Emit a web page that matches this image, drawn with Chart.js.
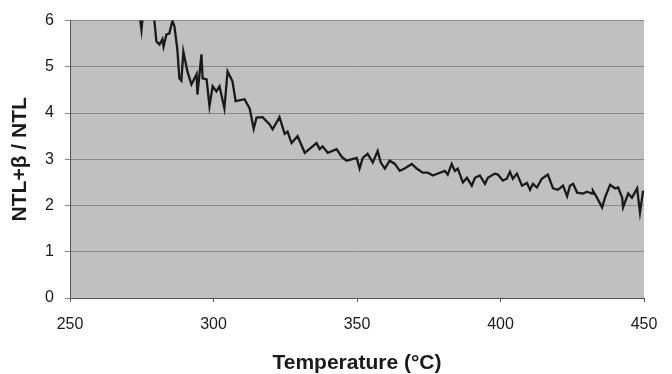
<!DOCTYPE html>
<html>
<head>
<meta charset="utf-8">
<script src="https://cdn.jsdelivr.net/npm/chart.js@4"></script>
<style>
  body { margin: 0; background: #fff; }
  #wrap { width: 672px; height: 374px; }
</style>
</head>
<body>
<div id="wrap"><canvas id="myChart" width="672" height="374"></canvas></div>
<script>
// temperature (°C) and ratio
var temps = [273.5, 274.5, 274.9, 275.2, 276.3, 278.4, 279.4, 280.1, 281.2, 282.2, 282.6, 283.6, 284.6, 285.7, 286.4, 287.4,
  288.1, 288.8, 289.5, 290.9, 292.3, 294.1, 294.4, 295.8, 296.2, 297.6, 298.6, 299.7, 301.0, 302.1, 303.8, 304.9,
  306.6, 307.7, 310.8, 312.6, 314.0, 315.0, 317.1, 319.5, 320.6, 323.0, 324.8, 325.8, 327.2, 329.3, 331.8, 335.9,
  337.0, 338.0, 339.8, 342.9, 344.7, 346.4, 349.9, 350.9, 352.0, 353.7, 355.5, 357.2, 358.3, 359.7, 361.4, 363.2,
  364.9, 366.6, 369.1, 370.8, 372.9, 374.7, 376.4, 378.9, 380.6, 381.6, 383.0, 384.1, 385.1, 386.9, 388.3, 390.0,
  391.1, 392.8, 394.6, 395.6, 398.0, 399.1, 400.8, 402.2, 403.3, 404.3, 405.7, 407.5, 409.2, 410.3, 411.3, 412.7,
  414.4, 416.5, 418.3, 420.0, 421.8, 423.2, 424.2, 425.3, 426.7, 428.8, 430.1, 431.9, 432.2, 433.6, 435.4, 436.4,
  438.2, 439.9, 441.0, 442.4, 442.7, 444.5, 445.8, 447.6, 448.6, 449.7];
var ratio = [6.3, 6.0, 5.8, 6.0, 6.4, 6.4, 6.0, 5.55, 5.48, 5.6, 5.44, 5.7, 5.72, 6.0, 5.87, 5.38,
  4.75, 4.7, 5.33, 4.9, 4.62, 4.84, 4.4, 5.27, 4.75, 4.73, 4.15, 4.58, 4.47, 4.58, 4.1, 4.9,
  4.69, 4.26, 4.3, 4.1, 3.66, 3.9, 3.91, 3.76, 3.65, 3.91, 3.55, 3.6, 3.35, 3.5, 3.14, 3.35,
  3.22, 3.28, 3.14, 3.22, 3.05, 2.97, 3.03, 2.8, 3.03, 3.12, 2.93, 3.18, 2.93, 2.8, 2.97, 2.9,
  2.75, 2.8, 2.9, 2.8, 2.71, 2.71, 2.65, 2.71, 2.75, 2.67, 2.9, 2.75, 2.8, 2.5, 2.6, 2.43,
  2.6, 2.65, 2.47, 2.6, 2.69, 2.67, 2.54, 2.58, 2.73, 2.58, 2.69, 2.43, 2.49, 2.34, 2.47, 2.39,
  2.58, 2.67, 2.37, 2.34, 2.43, 2.2, 2.43, 2.47, 2.28, 2.26, 2.3, 2.26, 2.32, 2.17, 1.96, 2.17,
  2.45, 2.37, 2.39, 2.17, 1.96, 2.26, 2.17, 2.37, 1.85, 2.32];

var xTicks = [250, 300, 350, 400, 450];
var yTicks = [0, 1, 2, 3, 4, 5, 6];

var points = [];
for (var i in temps) {
  points.push({x: temps[i], y: ratio[i]});
}

// grey plot background
var plotBg = {
  id: 'plotBg',
  beforeDraw: function(chart) {
    var a = chart.chartArea;
    var c = chart.ctx;
    c.save();
    c.fillStyle = '#c0c0c0';
    c.fillRect(a.left, a.top, a.right - a.left, a.bottom - a.top);
    c.restore();
  }
};

var ctx = document.getElementById('myChart');

var lineGraph = new Chart(ctx, {
  type: 'line',
  data: {
    datasets: [
      {
        data: points,
        borderColor: '#1a1a1a',
        borderWidth: 2.3,
        pointRadius: 0,
        tension: 0,
        clip: 0
      }
    ]
  },
  options: {
    responsive: false,
    animation: false,
    layout: { padding: { top: 19, right: 28, left: 0, bottom: 0 } },
    plugins: { legend: { display: false }, tooltip: { enabled: false } },
    scales: {
      x: {
        type: 'linear',
        min: xTicks[0],
        max: xTicks[xTicks.length - 1],
        afterBuildTicks: function(s) { s.ticks = xTicks.map(function(v) { return {value: v}; }); },
        afterFit: function(s) { s.height = 76; },
        grid: { drawOnChartArea: false, color: '#555', tickLength: 4 },
        border: { color: '#555', width: 1 },
        ticks: { color: '#1a1a1a', font: { family: 'Liberation Sans', size: 16 }, padding: 13, maxRotation: 0 },
        title: { display: true, text: 'Temperature (°C)', color: '#1a1a1a',
          font: { family: 'Liberation Sans', size: 21, weight: 'bold', lineHeight: 1.0 }, padding: { top: 0, bottom: 0 } }
      },
      y: {
        min: yTicks[0],
        max: yTicks[yTicks.length - 1],
        afterBuildTicks: function(s) { s.ticks = yTicks.map(function(v) { return {value: v}; }); },
        afterFit: function(s) { s.width = 70; },
        grid: { color: '#8a8a8a', tickLength: 5, lineWidth: 1 },
        border: { color: '#555', width: 1 },
        ticks: { color: '#1a1a1a', font: { family: 'Liberation Sans', size: 16 }, padding: 11 },
        title: { display: true, text: 'NTL+β / NTL', color: '#1a1a1a',
          font: { family: 'Liberation Sans', size: 21, weight: 'bold', lineHeight: 1.2 }, padding: { top: 8, bottom: 0 } }
      }
    }
  },
  plugins: [plotBg]
});
</script>
</body>
</html>
